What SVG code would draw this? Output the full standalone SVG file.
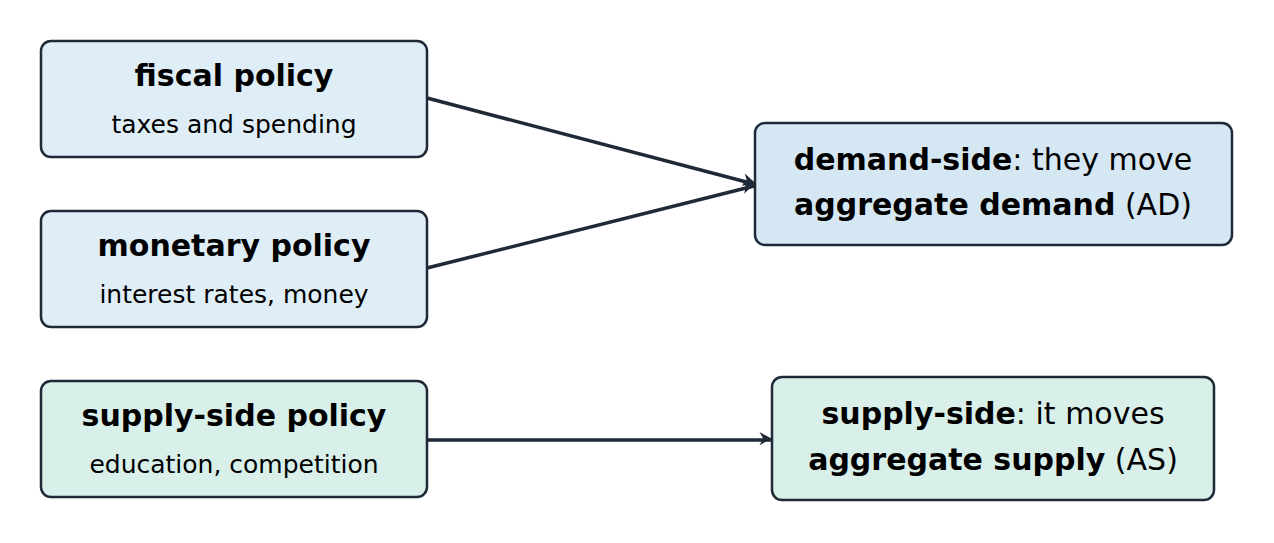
<svg xmlns="http://www.w3.org/2000/svg" width="1274" height="543" viewBox="0 0 1274 543">
<style>
.b{stroke:#1f2937;stroke-width:2.5}
.t{font-family:"DejaVu Sans",sans-serif;fill:#000;text-anchor:middle}
.h{font-size:30px;font-weight:bold}
.s{font-size:25px}
.m{font-size:30px}
.c{stroke:#1f2937;stroke-width:3.5;fill:none}
</style>
<defs><marker id="a" viewBox="0 0 12 12" refX="11" refY="6" markerWidth="7" markerHeight="7" markerUnits="userSpaceOnUse" orient="auto" style="overflow:visible"><path d="M-1,-1 L12,6 L-1,13 L3,6 z" fill="#1f2937" transform="scale(1.6) translate(-4.5,-3.75)"/></marker></defs>
<rect width="1274" height="543" fill="#fff"/>
<g id="fiscal"><rect class="b" x="41" y="41" width="386" height="116" rx="10" fill="#dfeef6"/><text class="t h" x="234" y="86">fiscal policy</text><text class="t s" x="234" y="133">taxes and spending</text></g>
<g id="monetary"><rect class="b" x="41" y="211" width="386" height="116" rx="10" fill="#dfeef6"/><text class="t h" x="234" y="256">monetary policy</text><text class="t s" x="234" y="303">interest rates, money</text></g>
<g id="supplypolicy"><rect class="b" x="41" y="381" width="386" height="116" rx="10" fill="#d8efea"/><text class="t h" x="234" y="426">supply-side policy</text><text class="t s" x="234" y="473">education, competition</text></g>
<g id="demand"><rect class="b" x="755" y="123" width="477" height="122" rx="10" fill="#d5e7f2"/><text class="t m" x="993" y="170"><tspan font-weight="bold">demand-side</tspan>: they move</text><text class="t m" x="993" y="215"><tspan font-weight="bold">aggregate demand</tspan> (AD)</text></g>
<g id="supply"><rect class="b" x="772" y="377" width="442" height="123" rx="10" fill="#d8efea"/><text class="t m" x="993" y="424"><tspan font-weight="bold">supply-side</tspan>: it moves</text><text class="t m" x="993" y="470"><tspan font-weight="bold">aggregate supply</tspan> (AS)</text></g>
<g id="connectors">
<path class="c" d="M427,98 L754,184" marker-end="url(#a)"/>
<path class="c" d="M427,268 L754,186" marker-end="url(#a)"/>
<path class="c" d="M427,440 L771,440" marker-end="url(#a)"/>
</g>
</svg>
